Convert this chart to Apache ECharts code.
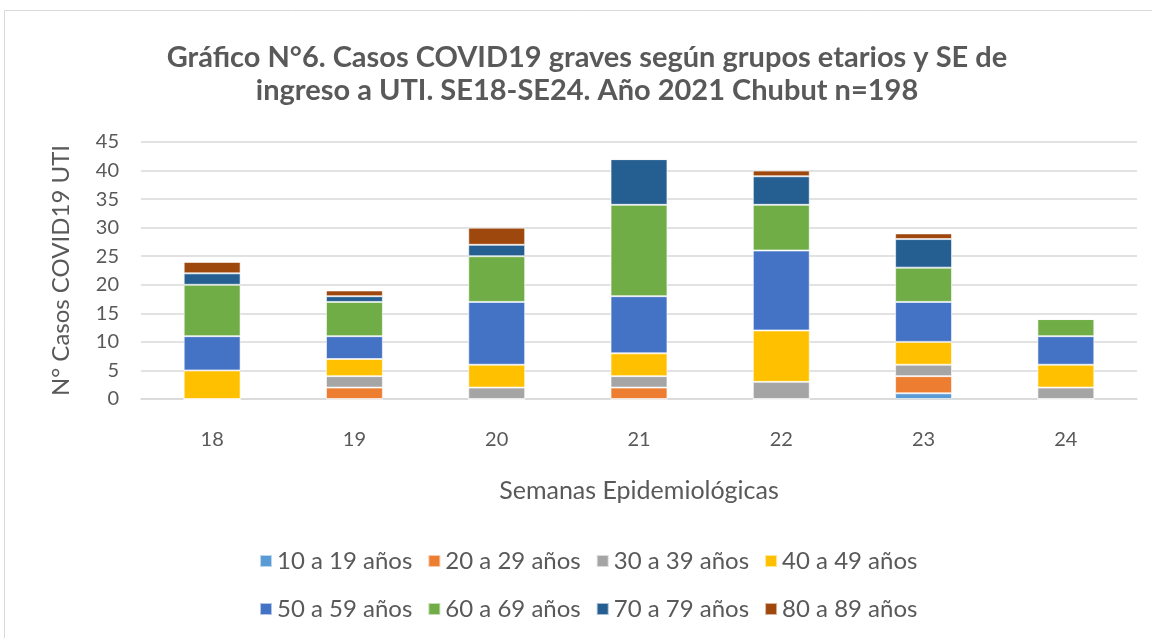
<!DOCTYPE html>
<html>
<head>
<meta charset="utf-8">
<script src="https://cdn.jsdelivr.net/npm/echarts@6/dist/echarts.min.js"></script>
<style>
  html, body { margin: 0; padding: 0; background: #fff; }
  #main { width: 1152px; height: 638px; }
</style>
</head>
<body>
<div id="main"></div>
<script>
// semanas epidemiologicas
var semanas = ['18', '19', '20', '21', '22', '23', '24'];
var grupos = ['10 a 19 años', '20 a 29 años', '30 a 39 años', '40 a 49 años',
              '50 a 59 años', '60 a 69 años', '70 a 79 años', '80 a 89 años'];
var colores = ['#5B9BD5', '#ED7D31', '#A5A5A5', '#FFC000', '#4472C4', '#70AD47', '#255E91', '#9E480E'];

var g10a19 = [0, 0, 0, 0, 0, 1, 0];
var g20a29 = [0, 2, 0, 2, 0, 3, 0];
var g30a39 = [0, 2, 2, 2, 3, 2, 2];
var g40a49 = [5, 3, 4, 4, 9, 4, 4];
var g50a59 = [6, 4, 11, 10, 14, 7, 5];
var g60a69 = [9, 6, 8, 16, 8, 6, 3];
var g70a79 = [2, 1, 2, 8, 5, 5, 0];
var g80a89 = [2, 1, 3, 0, 1, 1, 0];
var valores = [g10a19, g20a29, g30a39, g40a49, g50a59, g60a69, g70a79, g80a89];

var fuente = 'Lato, "Open Sans", sans-serif';
var gris = '#595959';

var myChart = echarts.init(document.getElementById('main'));

var series = [];
for (var i = 0; i < grupos.length; i++) {
    series.push({
        name: grupos[i],
        type: 'bar',
        stack: 'total',
        barWidth: '40%',
        itemStyle: {
            color: colores[i],
            borderColor: 'rgba(255,255,255,0.6)',
            borderWidth: 1
        },
        data: valores[i]
    });
}

var option = {
    backgroundColor: '#fff',
    graphic: [{
        type: 'rect',
        shape: { x: 4.5, y: 10.5, width: 1160, height: 640 },
        style: { fill: 'none', stroke: '#D9D9D9', lineWidth: 1 },
        silent: true
    }],
    title: {
        text: 'Gráfico N°6. Casos COVID19 graves según grupos etarios y SE de\ningreso a UTI. SE18-SE24. Año 2021 Chubut n=198',
        left: 582,
        textAlign: 'center',
        top: 36,
        textStyle: {
            fontFamily: fuente,
            fontSize: 29,
            fontWeight: 'bold',
            color: gris,
            lineHeight: 33
        }
    },
    legend: [{
        data: grupos.slice(0, 4),
        left: 254,
        top: 544,
        itemWidth: 12,
        itemHeight: 12,
        itemGap: 15,
        icon: 'rect',
        textStyle: { fontFamily: fuente, fontSize: 24, color: gris }
    }, {
        data: grupos.slice(4),
        left: 254,
        top: 592,
        itemWidth: 12,
        itemHeight: 12,
        itemGap: 15,
        icon: 'rect',
        textStyle: { fontFamily: fuente, fontSize: 24, color: gris }
    }],
    grid: {
        left: 141,
        right: 15,
        top: 142,
        height: 257
    },
    xAxis: {
        type: 'category',
        data: semanas,
        name: 'Semanas Epidemiológicas',
        nameLocation: 'middle',
        nameGap: 79,
        nameTextStyle: { fontFamily: fuente, fontSize: 25, color: gris },
        axisLine: { lineStyle: { color: '#D9D9D9', width: 1.5 } },
        axisTick: { show: false },
        axisLabel: { fontFamily: fuente, fontSize: 20, color: gris, margin: 31 }
    },
    yAxis: {
        type: 'value',
        min: 0,
        max: 45,
        interval: 5,
        name: 'N° Casos COVID19 UTI',
        nameLocation: 'middle',
        nameGap: 68,
        nameTextStyle: { fontFamily: fuente, fontSize: 24, color: gris },
        axisLine: { show: false },
        axisTick: { show: false },
        axisLabel: { fontFamily: fuente, fontSize: 20, color: gris, margin: 22 },
        splitLine: { lineStyle: { color: '#D9D9D9', width: 1.5 } }
    },
    series: series
};
myChart.setOption(option);
</script>
</body>
</html>
